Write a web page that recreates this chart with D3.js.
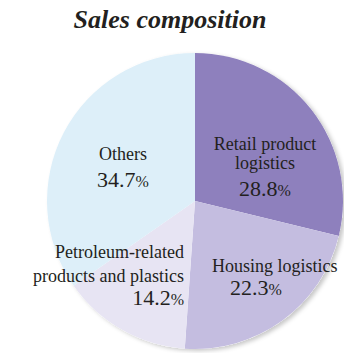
<!DOCTYPE html>
<html>
<head>
<meta charset="utf-8">
<script src="https://cdn.jsdelivr.net/npm/d3@7"></script>
<style>
  html, body { margin: 0; padding: 0; background: #ffffff; }
  svg { display: block; }
</style>
</head>
<body>
<svg id="chart" width="344" height="353"></svg>
<script>
// Sales composition by business segment (%), clockwise from 12 o'clock
const categories = ["Retail product logistics", "Housing logistics", "Petroleum-related products and plastics", "Others"];
const shares = [28.8, 22.3, 14.2, 34.7];
const colors = ["#8e80bd", "#c4bde0", "#e7e4f3", "#ddeff9"];

// Label lines per segment, drawn as wrapped text
const labelLines = [
  ["Retail product", "logistics"],
  ["Housing logistics"],
  ["Petroleum-related", "products and plastics"],
  ["Others"]
];

const svg = d3.select("#chart");
const cx = 195, cy = 201, r = 148;
const serif = '"Liberation Serif"';

svg.append("text")
  .attr("x", 170).attr("y", 28)
  .attr("text-anchor", "middle")
  .style("font-family", serif)
  .style("font-style", "italic")
  .style("font-weight", "bold")
  .style("font-size", "26px")
  .attr("fill", "#231f20")
  .text("Sales composition");

const defs = svg.append("defs");
const f = defs.append("filter").attr("id", "shadow")
  .attr("x", "-10%").attr("y", "-10%").attr("width", "120%").attr("height", "120%");
f.append("feDropShadow").attr("dx", 3).attr("dy", 2).attr("stdDeviation", 2)
  .attr("flood-color", "#000").attr("flood-opacity", 0.22);

const pie = d3.pie().sort(null).value(d => d)(shares);
const arc = d3.arc().innerRadius(0).outerRadius(r);

const g = svg.append("g").attr("transform", `translate(${cx},${cy})`);
g.append("circle").attr("r", r).attr("fill", "#ffffff").attr("filter", "url(#shadow)");
g.selectAll("path.slice")
  .data(pie)
  .join("path")
  .attr("class", "slice")
  .attr("d", arc)
  .attr("fill", (d, i) => colors[i]);

// Label placement per segment: anchor, x, y of first line baseline, line step, value position
const labelPos = [
  { anchor: "middle", x: 265, y: 150, step: 19, vx: 265, vy: 196 },
  { anchor: "start",  x: 212, y: 272, step: 18, vx: 230, vy: 295 },
  { anchor: "end",    x: 184, y: 258, step: 24, vx: 184, vy: 305 },
  { anchor: "middle", x: 123, y: 160, step: 18, vx: 123, vy: 187 }
];

shares.forEach((v, i) => {
  const p = labelPos[i];
  const t = svg.append("text")
    .attr("text-anchor", p.anchor)
    .style("font-family", serif)
    .attr("fill", "#231f20");
  labelLines[i].forEach((line, k) => {
    t.append("tspan")
      .attr("x", p.x).attr("y", p.y + k * p.step)
      .style("font-size", "18px")
      .text(line);
  });
  const vt = svg.append("text")
    .attr("x", p.vx).attr("y", p.vy)
    .attr("text-anchor", p.anchor)
    .style("font-family", serif)
    .attr("fill", "#231f20");
  vt.append("tspan").style("font-size", "22px").text(d3.format(".1f")(v));
  vt.append("tspan").style("font-size", "16px").text("%");
});
</script>
</body>
</html>
